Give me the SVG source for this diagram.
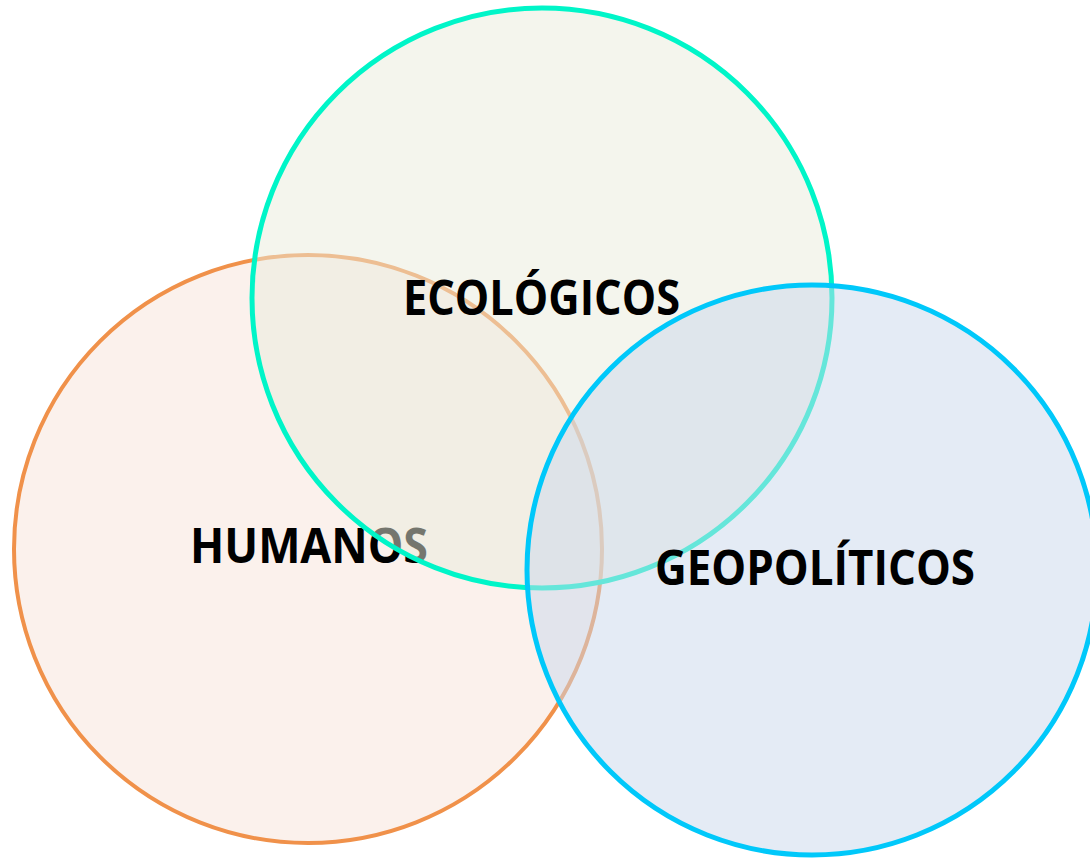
<svg xmlns="http://www.w3.org/2000/svg" width="1090" height="860" viewBox="0 0 1090 860">
<style>
.lbl{font-family:"Open Sans","Liberation Sans",sans-serif;font-weight:700;font-size:48px;fill:#000}
</style>
<rect width="1090" height="860" fill="#fff"/>
<g id="humanos">
<circle cx="308" cy="549" r="294" fill="#FBF1EC" stroke="#F0914A" stroke-width="4"/>
<text class="lbl" x="190" y="563" textLength="238" lengthAdjust="spacingAndGlyphs">HUMANOS</text>
</g>
<g id="ecologicos">
<circle cx="542" cy="298" r="290" fill="#E9ECDC" fill-opacity="0.5" stroke="#00F5C8" stroke-width="5"/>
<text class="lbl" x="403" y="315" textLength="277" lengthAdjust="spacingAndGlyphs">ECOLÓGICOS</text>
</g>
<g id="geopoliticos">
<circle cx="812" cy="570" r="285" fill="#CAD7EB" fill-opacity="0.5" stroke="#00C8FA" stroke-width="5"/>
<text class="lbl" x="655" y="585" textLength="320" lengthAdjust="spacingAndGlyphs">GEOPOLÍTICOS</text>
</g>
</svg>
